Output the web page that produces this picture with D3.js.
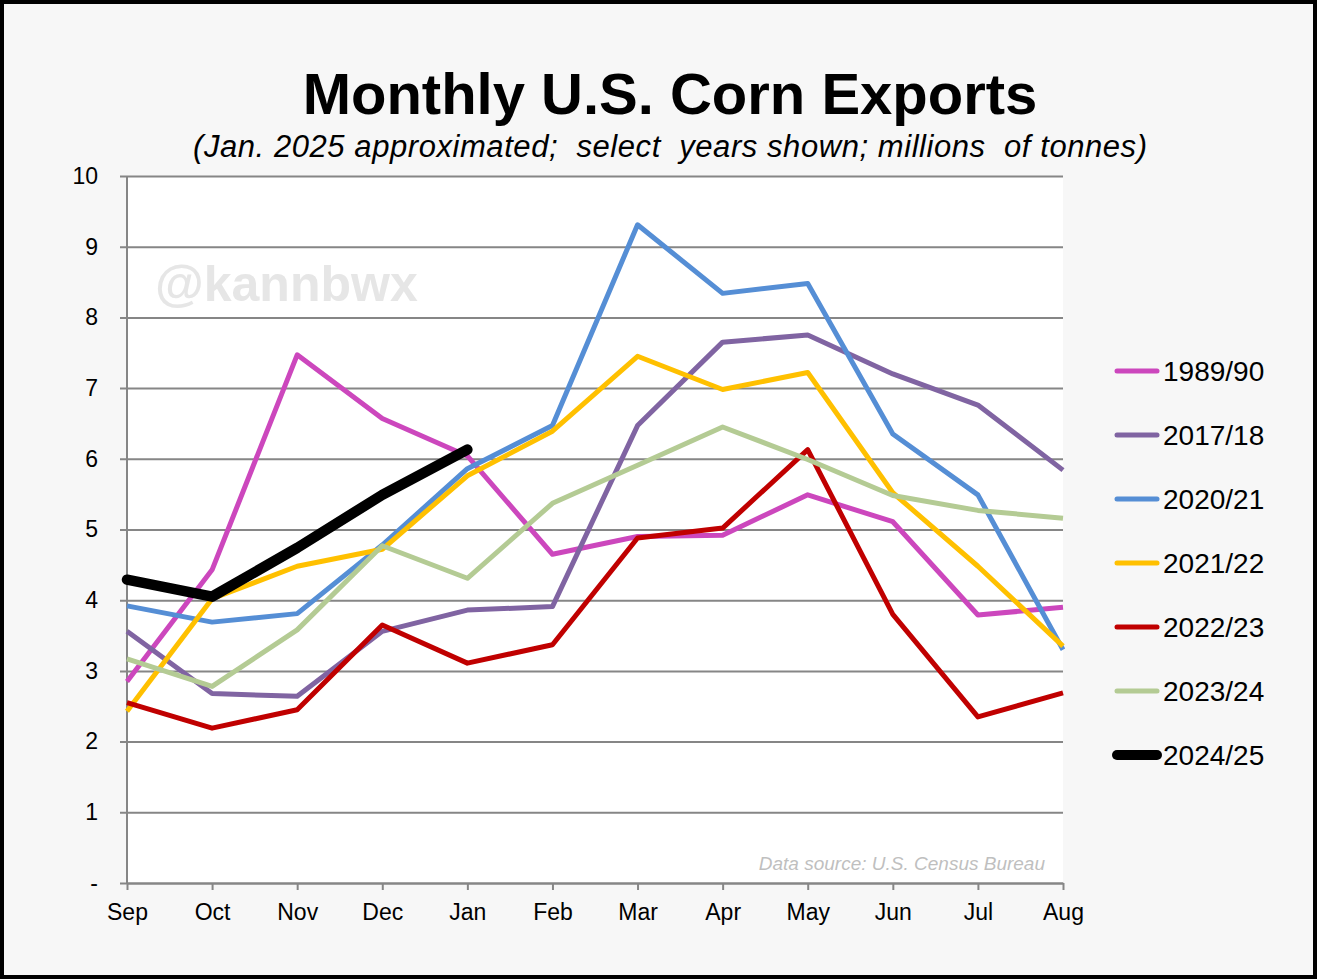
<!DOCTYPE html>
<html>
<head>
<meta charset="utf-8">
<script src="https://cdn.jsdelivr.net/npm/d3@7"></script>
<style>
  body { margin: 0; background: #fff; }
  text { font-family: Arial, "Liberation Sans", sans-serif; }
</style>
</head>
<body>
<script>

// months of the marketing year
var months = ["Sep", "Oct", "Nov", "Dec", "Jan", "Feb", "Mar", "Apr", "May", "Jun", "Jul", "Aug"];
var yTicks = [0, 1, 2, 3, 4, 5, 6, 7, 8, 9, 10];

// monthly exports, million tonnes
var y1989 = [2.85, 4.43, 7.47, 6.57, 6.04, 4.65, 4.90, 4.92, 5.49, 5.11, 3.79, 3.90];
var y2017 = [3.56, 2.68, 2.64, 3.56, 3.86, 3.91, 6.47, 7.65, 7.75, 7.20, 6.76, 5.84];
var y2020 = [3.92, 3.69, 3.81, 4.78, 5.86, 6.47, 9.31, 8.34, 8.48, 6.35, 5.49, 3.30];
var y2021 = [2.43, 4.02, 4.48, 4.72, 5.76, 6.39, 7.45, 6.98, 7.22, 5.52, 4.48, 3.35];
var y2022 = [2.55, 2.19, 2.45, 3.65, 3.11, 3.37, 4.88, 5.02, 6.13, 3.80, 2.35, 2.69];
var y2023 = [3.17, 2.78, 3.58, 4.77, 4.31, 5.37, 5.91, 6.45, 5.99, 5.48, 5.27, 5.16];
var y2024 = [4.29, 4.05, 4.74, 5.49, 6.13];

var seriesNames = ["1989/90", "2017/18", "2020/21", "2021/22", "2022/23", "2023/24", "2024/25"];
var seriesValues = [y1989, y2017, y2020, y2021, y2022, y2023, y2024];
var seriesColors = ["#cc47bd", "#8064a2", "#558ed5", "#ffc000", "#c00000", "#b4cb94", "#000000"];

var W = 1317, H = 979;
var plotL = 127, plotR = 1063, plotT = 176, plotB = 883;

var svg = d3.select("body").append("svg").attr("width", W).attr("height", H);

// frame + background
svg.append("rect").attr("x", 2).attr("y", 2).attr("width", W - 4).attr("height", H - 4)
   .attr("fill", "#f7f7f7").attr("stroke", "#000").attr("stroke-width", 4);

// plot area
svg.append("rect").attr("x", plotL).attr("y", plotT)
   .attr("width", plotR - plotL).attr("height", plotB - plotT).attr("fill", "#fff");

var x = d3.scalePoint().domain(months).range([plotL, plotR]).padding(0);
var y = d3.scaleLinear().domain([0, 10]).range([plotB, plotT]);

// gridlines and y labels (ticks run from the left tick mark to the right edge)
var yAxis = svg.append("g").attr("transform", "translate(" + plotR + ",0)")
   .call(d3.axisLeft(y).tickValues(yTicks).tickSize(plotR - 120).tickPadding(22)
         .tickFormat(function (d) { return d === 0 ? "-" : d; }));
yAxis.attr("font-size", 23).attr("font-family", "Arial, 'Liberation Sans', sans-serif");
yAxis.select(".domain").remove();
yAxis.selectAll("line").attr("stroke", "#868686").attr("stroke-width", 2);
yAxis.selectAll("text").attr("fill", "#000");

// y axis line
svg.append("line").attr("x1", plotL).attr("x2", plotL).attr("y1", plotT).attr("y2", plotB)
   .attr("stroke", "#868686").attr("stroke-width", 2);

// x axis
var xAxis = svg.append("g").attr("transform", "translate(0," + plotB + ")")
   .call(d3.axisBottom(x).tickSizeInner(7).tickSizeOuter(0).tickPadding(14));
xAxis.attr("font-size", 23).attr("font-family", "Arial, 'Liberation Sans', sans-serif");
xAxis.select(".domain").attr("stroke", "#868686").attr("stroke-width", 2);
xAxis.selectAll("line").attr("stroke", "#868686").attr("stroke-width", 2);
xAxis.selectAll("text").attr("fill", "#000");

// watermark + source
svg.append("text").attr("x", 155).attr("y", 301).attr("font-size", 50).attr("font-weight", "bold")
   .attr("fill", "#e6e6e6").text("@kannbwx");
svg.append("text").attr("x", 1045).attr("y", 870).attr("text-anchor", "end")
   .attr("font-size", 19).attr("font-style", "italic").attr("fill", "#bfbfbf")
   .text("Data source: U.S. Census Bureau");

// lines
var line = d3.line()
   .x(function (d, i) { return x(months[i]); })
   .y(function (d) { return y(d); });

svg.selectAll("path.series")
   .data(seriesValues)
   .enter().append("path")
   .attr("class", "series")
   .attr("d", line)
   .attr("fill", "none")
   .attr("stroke", function (d, i) { return seriesColors[i]; })
   .attr("stroke-width", function (d, i) { return i === 6 ? 10.5 : 5; })
   .attr("stroke-linejoin", "round")
   .attr("stroke-linecap", function (d, i) { return i === 6 ? "round" : "butt"; });

// titles
svg.append("text").attr("x", 670).attr("y", 114).attr("text-anchor", "middle")
   .attr("font-size", 58).attr("font-weight", "bold").attr("fill", "#000")
   .text("Monthly U.S. Corn Exports");
svg.append("text").attr("x", 193).attr("y", 157)
   .attr("font-size", 31).attr("font-style", "italic").attr("fill", "#000")
   .attr("textLength", 954).attr("lengthAdjust", "spacing")
   .style("white-space", "pre")
   .text("(Jan. 2025 approximated;  select  years shown; millions  of tonnes)");

// legend
var legend = svg.selectAll("g.leg")
   .data(seriesNames)
   .enter().append("g")
   .attr("class", "leg")
   .attr("transform", function (d, i) { return "translate(0," + (371 + i * 64) + ")"; });

legend.append("line")
   .attr("x1", 1117).attr("x2", 1157).attr("y1", 0).attr("y2", 0)
   .attr("stroke", function (d, i) { return seriesColors[i]; })
   .attr("stroke-width", function (d, i) { return i === 6 ? 10 : 5; })
   .attr("stroke-linecap", "round");

legend.append("text")
   .attr("x", 1163).attr("y", 10)
   .attr("font-size", 28).attr("fill", "#000")
   .text(function (d) { return d; });

</script>
</body>
</html>
